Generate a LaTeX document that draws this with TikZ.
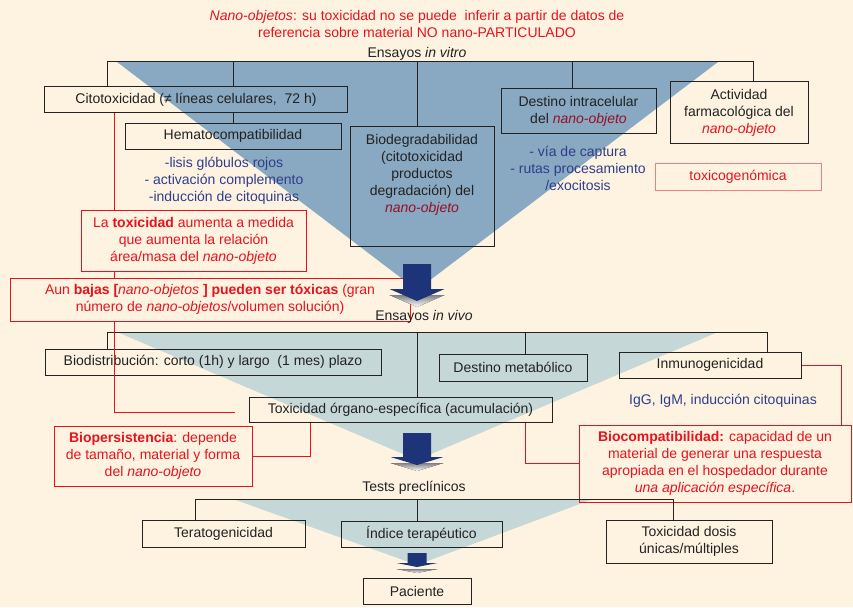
\documentclass[tikz,border=0pt]{standalone}
\usepackage{fontspec}
\setmainfont{Liberation Sans}
\usetikzlibrary{calc}
\definecolor{cream}{RGB}{254,243,224}
\definecolor{vitroblue}{RGB}{137,168,193}
\definecolor{vivogray}{RGB}{198,215,216}
\definecolor{nred}{RGB}{232,18,30}
\definecolor{dred}{RGB}{150,16,40}
\definecolor{listblue}{RGB}{46,62,140}
\definecolor{navy}{RGB}{30,52,120}
\definecolor{shade}{RGB}{135,125,108}
\definecolor{ink}{RGB}{34,34,34}

\newcommand\stagearrow[6]{%
  \fill[shade] (#1-#6,#3+6) -- (#1+#6,#3+6) -- (#1,#4+6) -- cycle;
  \fill[navy] (#1-#5,#2) -- (#1+#5,#2) -- (#1+#5,#3) -- (#1+#6,#3) -- (#1,#4) -- (#1-#6,#3) -- (#1-#5,#3) -- cycle;}

\tikzset{
  box/.style={draw=ink, line width=1pt, text=ink, align=center, inner sep=2pt},
  rbox/.style={draw=nred, line width=1pt, text=nred, align=center, inner sep=2pt},
  lst/.style={text=listblue, align=center},
  stage/.style={text=ink},
  link/.style={draw=ink, line width=1pt},
  rlink/.style={draw=nred, line width=1pt},
  wh/.style 2 args={minimum width=#1pt, minimum height=#2pt}
}

\begin{document}
\begin{tikzpicture}[x=1pt, y=-1pt, font=\fontsize{14}{17}\selectfont]

\fill[cream] (0,0) rectangle (853,607);
\useasboundingbox (0,0) rectangle (853,607);

\fill[vitroblue] (117,62) -- (718,62) -- (417,290) -- cycle;
\fill[vivogray] (117,332) -- (718,332) -- (417,460) -- cycle;
\fill[vivogray] (233,499) -- (593,499) -- (417,565) -- cycle;

\node[text=nred, align=center] (title) at (417,23.5) {\textit{Nano-objetos}: su toxicidad no se puede~ inferir a partir de datos de\\referencia sobre material NO nano-PARTICULADO};

\node[stage] (vitro) at (417,54) {Ensayos \textit{in vitro}};
\node[box, wh={303}{26}] (citotox) at (196,100) {Citotoxicidad (≠ líneas celulares,~ 72 h)};
\node[box, wh={216}{26}] (hemato) at (233,136) {Hematocompatibilidad};
\node[lst] (hemlist) at (224,181) {-lisis glóbulos rojos\\- activación complemento\\-inducción de citoquinas};
\node[box, wh={144}{120}] (biodeg) at (422,186) {};
\node[text=ink, align=center] (biodegtxt) at (422,175) {Biodegradabilidad\\(citotoxicidad\\productos\\degradación) del\\\textcolor{dred}{\textit{nano-objeto}}};
\node[box, wh={155}{44}] (destino) at (578.5,111) {Destino intracelular\\del \textcolor{dred}{\textit{nano-objeto}}};
\node[lst] (destlist) at (578,168) {- vía de captura\\- rutas procesamiento\\/exocitosis};
\node[box, wh={138}{61}] (activ) at (739,112.5) {Actividad\\farmacológica del\\\textcolor{nred}{\textit{nano-objeto}}};
\node[rbox, draw=nred!55, wh={166}{27}] (toxgen) at (738,176.5) {toxicogenómica};

\node[rbox, wh={225}{61}] (redtox) at (193.5,240.5) {La \textbf{toxicidad} aumenta a medida\\que aumenta la relación\\área/masa del \textit{nano-objeto}};
\node[rbox, wh={400}{43}] (redbajas) at (210,299.5) {Aun \textbf{bajas [}\textit{nano-objetos} \textbf{] pueden ser tóxicas} (gran\\número de \textit{nano-objetos}/volumen solución)};

\node[stage] (vivo) at (424,317) {Ensayos \textit{in vivo}};
\node[box, wh={336}{26}] (biodist) at (213,362) {Biodistribución: corto (1h) y largo~ (1 mes) plazo};
\node[box, wh={148}{27}] (destmet) at (513,367.5) {Destino metabólico};
\node[box, wh={182}{26}] (inmuno) at (710,365) {Inmunogenicidad};
\node[lst] (igg) at (723,401) {IgG, IgM, inducción citoquinas};
\node[box, wh={303}{25}] (toxorg) at (400.5,409.5) {Toxicidad órgano-específica (acumulación)};
\node[rbox, wh={198}{60}] (biopers) at (153,456) {\textbf{Biopersistencia}: depende\\de tamaño, material y forma\\del \textit{nano-objeto}};
\node[rbox, wh={272}{77}] (biocomp) at (715,463.5) {\textbf{Biocompatibilidad:} capacidad de un\\material de generar una respuesta\\apropiada en el hospedador durante\\\textit{una aplicación específica}.};

\node[stage] (tests) at (414,488) {Tests preclínicos};
\node[box, wh={163}{27}] (terato) at (223.5,533.5) {Teratogenicidad};
\node[box, wh={161}{26}] (indice) at (421.5,534) {Índice terapéutico};
\node[box, wh={166}{43}] (toxdosis) at (689,541.5) {Toxicidad dosis\\únicas/múltiples};
\node[box, wh={108}{26}] (paciente) at (417,591) {Paciente};

% brackets
\coordinate (vitroL) at (107,62);
\coordinate (vitroR) at (753,62);
\draw[link] (vitroL |- citotox.north) -- (vitroL) -- (vitroR) -- (vitroR |- activ.north);
\draw[link] (hemato.north |- vitroL) -- (hemato.north |- citotox.north) (hemato.north |- citotox.south) -- (hemato.north);
\draw[link] (vitro |- vitroL) -- (vitro |- biodeg.north);
\draw[link] ($(destino.north |- vitroL)+(-6,0)$) -- ($(destino.north)+(-6,0)$);

\coordinate (vivoL) at (107,332);
\coordinate (vivoR) at (767,332);
\draw[link] (vivoL |- biodist.north) -- (vivoL) -- (vivoR) -- (vivoR |- inmuno.north);
\draw[link] (vitro |- vivoL) -- (vitro |- toxorg.north);
\draw[link] ($(destmet.north |- vivoL)+(12,0)$) -- ($(destmet.north)+(12,0)$);

\coordinate (testsL) at (195,499);
\coordinate (testsR) at (673,499);
\draw[link] (testsL |- terato.north) -- (testsL) -- (testsR) -- (testsR |- toxdosis.north);
\draw[link] (vitro |- testsL) -- (vitro |- indice.north);

\coordinate (rx) at (114,0);
\draw[rlink] (rx |- citotox.south) -- (rx |- redtox.north) (rx |- redtox.south) -- (rx |- redbajas.north) (rx |- redbajas.south) |- ($(toxorg.west)+(-14,2.5)$);
\draw[rlink] ($(toxorg.south)+(-90.5,0)$) |- (biopers.east);
\draw[rlink] ($(toxorg.south)+(124.5,0)$) |- (biocomp.west);
\draw[rlink] (inmuno.east) -| ($(biocomp.north)+(126,0)$);

\stagearrow{417}{264}{289}{301}{14}{27.5}
\stagearrow{417}{433}{457}{465}{14}{26.5}
\stagearrow{417}{553}{563}{567}{9.5}{20.5}

\end{tikzpicture}
\end{document}
